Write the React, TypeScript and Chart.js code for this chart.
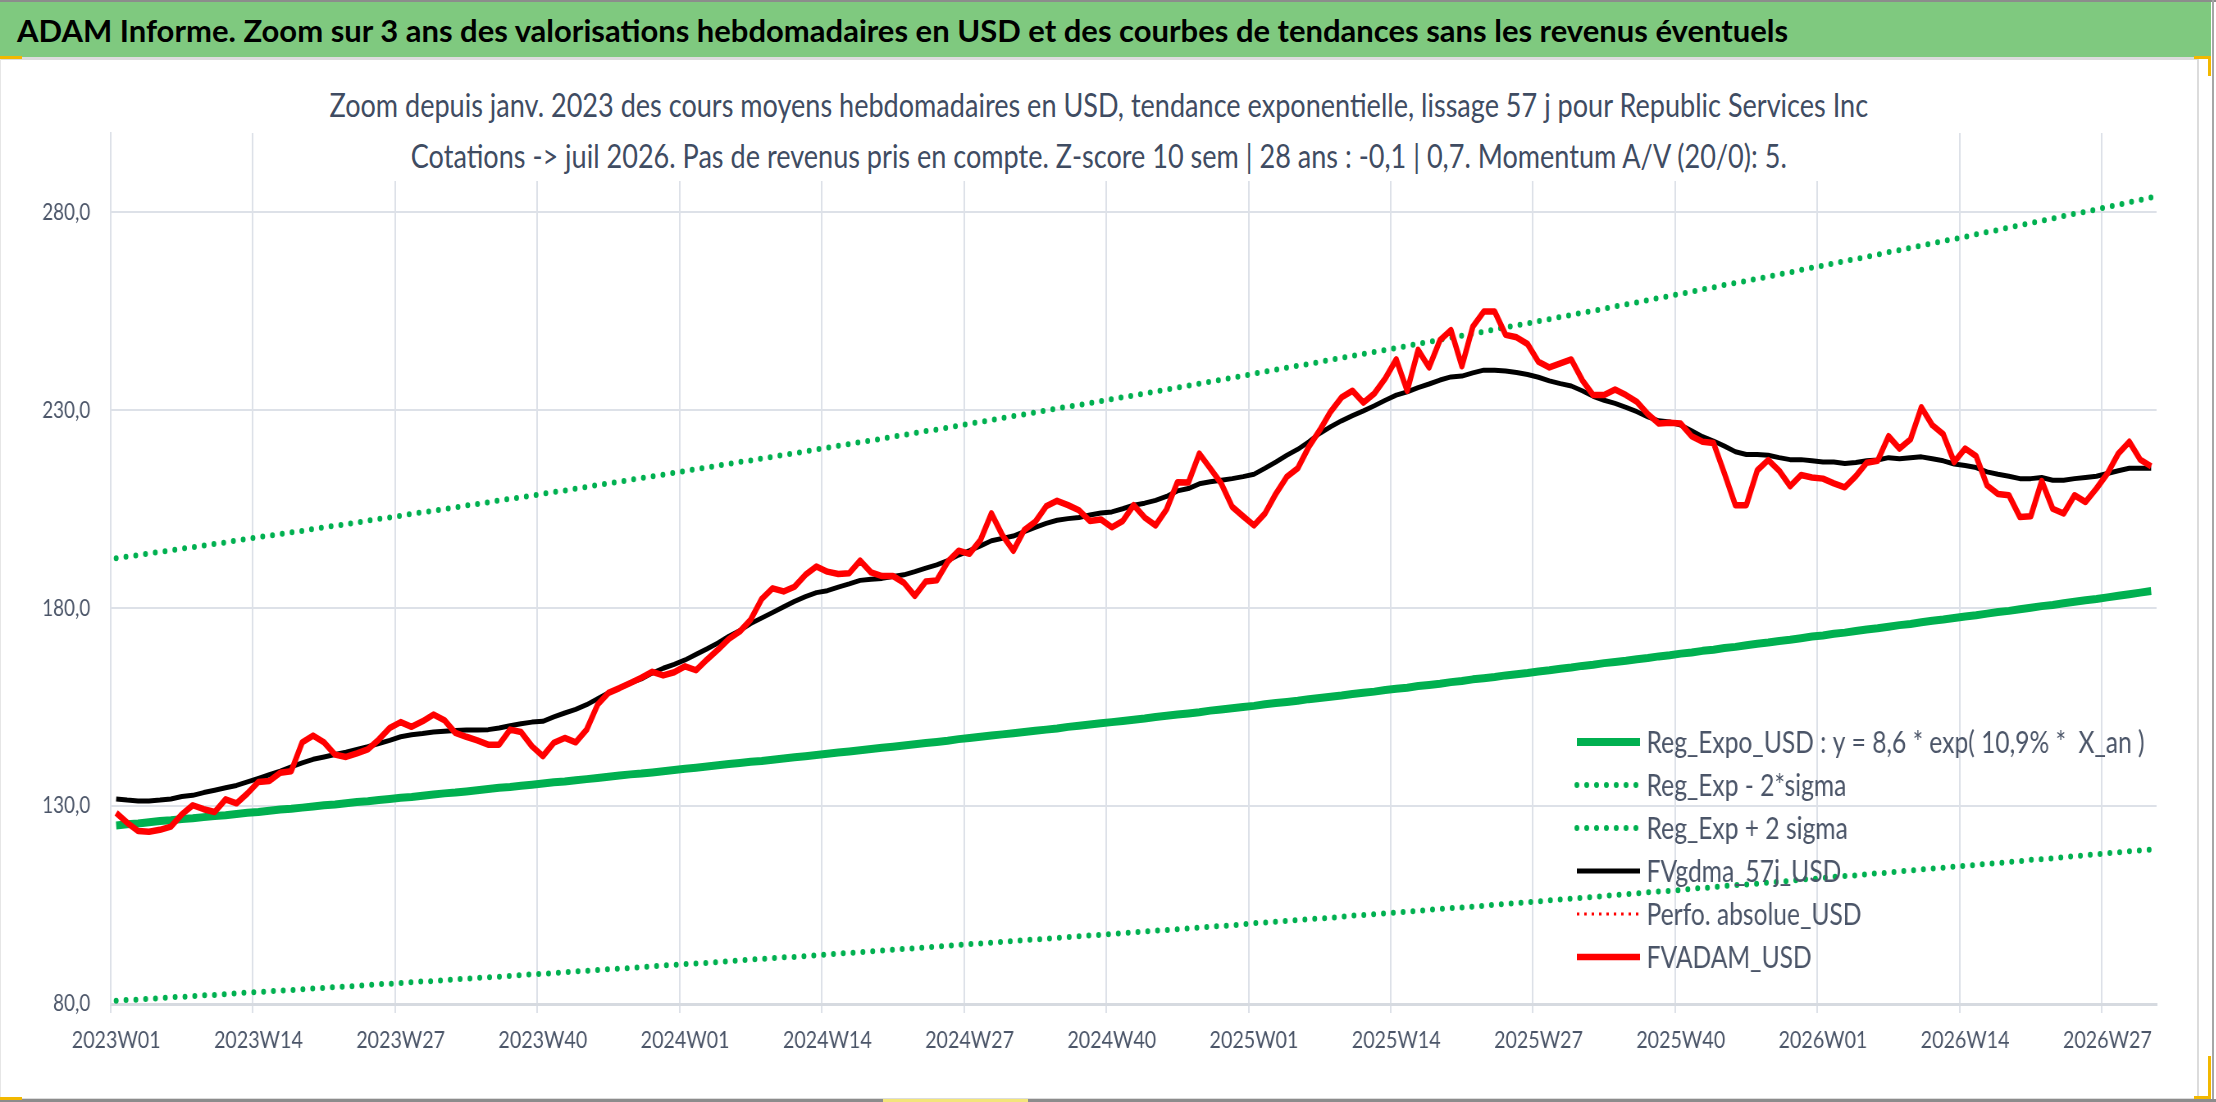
import React, { useEffect, useRef } from 'react';
import { Chart, registerables, Plugin } from 'chart.js';

Chart.register(...registerables);

// horizontal squeeze of the whole chart block (the reference chart is a narrowed Excel picture)
const SQUEEZE = 0.82;
const CHART_W = 2680;
const CHART_H = 1037;

const GREEN = '#00B050';
const RED = '#FF0000';
const GRID = '#dde1e8';
const TEXT = '#4b5568';
const MARK = '#f2b800';

const years = [2023, 2024, 2025, 2026];
const weeksInYear = [52, 52, 52, 31];
const weeks: string[] = [];
years.forEach((y, k) => {
  for (let w = 1; w <= weeksInYear[k]; w++) weeks.push(`${y}W${String(w).padStart(2, '0')}`);
});

const xTickLabels = [
  '2023W01', '2023W14', '2023W27', '2023W40',
  '2024W01', '2024W14', '2024W27', '2024W40',
  '2025W01', '2025W14', '2025W27', '2025W40',
  '2026W01', '2026W14', '2026W27',
];
const yTicks = [80, 130, 180, 230, 280];

const regExpo = [
  125.1, 125.4, 125.6, 125.9, 126.2, 126.4, 126.7, 126.9, 127.2, 127.5,
  127.7, 128.0, 128.3, 128.5, 128.8, 129.1, 129.3, 129.6, 129.9, 130.2,
  130.4, 130.7, 131.0, 131.2, 131.5, 131.8, 132.1, 132.3, 132.6, 132.9,
  133.2, 133.4, 133.7, 134.0, 134.3, 134.6, 134.8, 135.1, 135.4, 135.7,
  136.0, 136.2, 136.5, 136.8, 137.1, 137.4, 137.7, 138.0, 138.2, 138.5,
  138.8, 139.1, 139.4, 139.7, 140.0, 140.3, 140.6, 140.9, 141.2, 141.4,
  141.7, 142.0, 142.3, 142.6, 142.9, 143.2, 143.5, 143.8, 144.1, 144.4,
  144.7, 145.0, 145.3, 145.6, 145.9, 146.2, 146.5, 146.9, 147.2, 147.5,
  147.8, 148.1, 148.4, 148.7, 149.0, 149.3, 149.6, 150.0, 150.3, 150.6,
  150.9, 151.2, 151.5, 151.8, 152.1, 152.5, 152.8, 153.1, 153.4, 153.7,
  154.1, 154.4, 154.7, 155.0, 155.3, 155.7, 156.0, 156.3, 156.6, 157.0,
  157.3, 157.6, 157.9, 158.3, 158.6, 158.9, 159.3, 159.6, 159.9, 160.3,
  160.6, 160.9, 161.3, 161.6, 162.0, 162.3, 162.6, 163.0, 163.3, 163.6,
  164.0, 164.3, 164.7, 165.0, 165.4, 165.7, 166.1, 166.4, 166.7, 167.1,
  167.4, 167.8, 168.1, 168.5, 168.8, 169.2, 169.5, 169.9, 170.2, 170.6,
  171.0, 171.3, 171.7, 172.0, 172.4, 172.8, 173.1, 173.5, 173.8, 174.2,
  174.6, 174.9, 175.3, 175.7, 176.0, 176.4, 176.8, 177.1, 177.5, 177.9,
  178.2, 178.6, 179.0, 179.3, 179.7, 180.1, 180.5, 180.8, 181.2, 181.6,
  182.0, 182.3, 182.7, 183.1, 183.5, 183.9, 184.3,
];

const regLow = [
  80.8, 81.0, 81.1, 81.3, 81.5, 81.7, 81.8, 82.0, 82.2, 82.3,
  82.5, 82.7, 82.9, 83.0, 83.2, 83.4, 83.5, 83.7, 83.9, 84.1,
  84.3, 84.4, 84.6, 84.8, 85.0, 85.1, 85.3, 85.5, 85.7, 85.8,
  86.0, 86.2, 86.4, 86.6, 86.7, 86.9, 87.1, 87.3, 87.5, 87.6,
  87.8, 88.0, 88.2, 88.4, 88.6, 88.8, 88.9, 89.1, 89.3, 89.5,
  89.7, 89.9, 90.1, 90.2, 90.4, 90.6, 90.8, 91.0, 91.2, 91.4,
  91.6, 91.8, 91.9, 92.1, 92.3, 92.5, 92.7, 92.9, 93.1, 93.3,
  93.5, 93.7, 93.9, 94.1, 94.3, 94.5, 94.7, 94.9, 95.1, 95.3,
  95.5, 95.7, 95.9, 96.1, 96.3, 96.5, 96.7, 96.9, 97.1, 97.3,
  97.5, 97.7, 97.9, 98.1, 98.3, 98.5, 98.7, 98.9, 99.1, 99.3,
  99.5, 99.7, 99.9, 100.1, 100.4, 100.6, 100.8, 101.0, 101.2, 101.4,
  101.6, 101.8, 102.0, 102.3, 102.5, 102.7, 102.9, 103.1, 103.3, 103.5,
  103.8, 104.0, 104.2, 104.4, 104.6, 104.8, 105.1, 105.3, 105.5, 105.7,
  105.9, 106.2, 106.4, 106.6, 106.8, 107.0, 107.3, 107.5, 107.7, 107.9,
  108.2, 108.4, 108.6, 108.8, 109.1, 109.3, 109.5, 109.8, 110.0, 110.2,
  110.4, 110.7, 110.9, 111.1, 111.4, 111.6, 111.8, 112.1, 112.3, 112.5,
  112.8, 113.0, 113.2, 113.5, 113.7, 114.0, 114.2, 114.4, 114.7, 114.9,
  115.1, 115.4, 115.6, 115.9, 116.1, 116.4, 116.6, 116.8, 117.1, 117.3,
  117.6, 117.8, 118.1, 118.3, 118.6, 118.8, 119.0,
];

const regHigh = [
  192.6, 193.0, 193.4, 193.8, 194.2, 194.6, 195.0, 195.4, 195.8, 196.2,
  196.6, 197.1, 197.5, 197.9, 198.3, 198.7, 199.1, 199.5, 200.0, 200.4,
  200.8, 201.2, 201.6, 202.1, 202.5, 202.9, 203.3, 203.8, 204.2, 204.6,
  205.0, 205.4, 205.9, 206.3, 206.7, 207.2, 207.6, 208.0, 208.4, 208.9,
  209.3, 209.7, 210.2, 210.6, 211.1, 211.5, 211.9, 212.4, 212.8, 213.3,
  213.7, 214.2, 214.6, 215.1, 215.5, 216.0, 216.4, 216.9, 217.3, 217.8,
  218.2, 218.7, 219.1, 219.6, 220.1, 220.5, 221.0, 221.4, 221.9, 222.3,
  222.8, 223.3, 223.7, 224.2, 224.7, 225.1, 225.6, 226.1, 226.6, 227.0,
  227.5, 228.0, 228.5, 228.9, 229.4, 229.9, 230.4, 230.9, 231.3, 231.8,
  232.3, 232.8, 233.3, 233.7, 234.2, 234.7, 235.2, 235.7, 236.2, 236.7,
  237.2, 237.7, 238.2, 238.7, 239.2, 239.7, 240.2, 240.7, 241.2, 241.6,
  242.2, 242.7, 243.2, 243.7, 244.2, 244.7, 245.2, 245.7, 246.2, 246.8,
  247.2, 247.8, 248.3, 248.8, 249.3, 249.8, 250.4, 250.9, 251.4, 251.9,
  252.5, 253.0, 253.5, 254.0, 254.6, 255.1, 255.6, 256.2, 256.7, 257.2,
  257.8, 258.3, 258.8, 259.4, 259.9, 260.5, 261.0, 261.6, 262.1, 262.6,
  263.2, 263.7, 264.3, 264.8, 265.4, 266.0, 266.5, 267.1, 267.6, 268.2,
  268.7, 269.3, 269.9, 270.4, 271.0, 271.6, 272.1, 272.7, 273.2, 273.8,
  274.4, 275.0, 275.5, 276.1, 276.7, 277.3, 277.8, 278.4, 279.0, 279.6,
  280.1, 280.7, 281.3, 281.9, 282.5, 283.1, 283.7,
];

const fvGdma = [
  131.8, 131.5, 131.3, 131.3, 131.5, 131.8, 132.4, 132.7, 133.4, 134.0,
  134.6, 135.2, 136.1, 137.0, 137.9, 138.8, 139.9, 140.9, 141.8, 142.4,
  143.0, 143.6, 144.3, 145.0, 145.8, 146.6, 147.5, 148.0, 148.3, 148.7,
  148.9, 149.1, 149.2, 149.2, 149.3, 149.7, 150.3, 150.8, 151.2, 151.4,
  152.5, 153.5, 154.4, 155.6, 157.1, 158.6, 159.8, 161.1, 162.1, 163.6,
  164.8, 165.8, 166.9, 168.3, 169.7, 171.2, 172.9, 174.3, 176.1, 177.5,
  178.9, 180.3, 181.7, 182.9, 183.9, 184.4, 185.3, 186.1, 187.0, 187.3,
  187.5, 188.0, 188.4, 189.2, 190.1, 190.9, 192.0, 193.4, 194.5, 195.7,
  197.0, 197.6, 198.2, 199.3, 200.4, 201.4, 202.2, 202.6, 202.9, 203.5,
  204.0, 204.3, 205.1, 206.0, 206.5, 207.2, 208.2, 209.6, 210.2, 211.4,
  211.9, 212.3, 212.7, 213.2, 213.8, 215.3, 216.9, 218.6, 220.1, 222.0,
  224.1, 225.8, 227.3, 228.6, 229.8, 231.1, 232.5, 233.8, 234.6, 235.7,
  236.6, 237.6, 238.4, 238.6, 239.4, 240.1, 240.1, 239.9, 239.5, 239.0,
  238.3, 237.4, 236.7, 236.1, 234.9, 233.5, 232.5, 231.7, 230.7, 229.6,
  228.3, 227.3, 227.0, 226.2, 224.8, 223.3, 222.2, 220.9, 219.5, 218.8,
  218.8, 218.6, 218.0, 217.5, 217.5, 217.2, 216.9, 216.9, 216.5, 216.8,
  217.2, 217.4, 218.0, 217.7, 218.0, 218.2, 217.7, 217.2, 216.4, 216.0,
  215.5, 214.4, 213.8, 213.3, 212.7, 212.7, 213.0, 212.3, 212.3, 212.7,
  213.0, 213.3, 214.0, 214.7, 215.3, 215.3, 215.3,
];

const fvAdam = [
  128.3, 125.8, 123.7, 123.5, 124.0, 124.8, 127.9, 130.2, 129.2, 128.5,
  131.7, 130.7, 133.2, 136.1, 136.3, 138.4, 138.8, 146.1, 147.8, 146.1,
  143.0, 142.4, 143.3, 144.3, 146.8, 149.7, 151.2, 150.0, 151.4, 153.1,
  151.7, 148.5, 147.5, 146.6, 145.5, 145.5, 149.3, 148.7, 145.1, 142.6,
  146.0, 147.2, 146.1, 149.3, 155.6, 158.6, 159.8, 161.1, 162.4, 163.9,
  163.0, 163.8, 165.3, 164.3, 167.0, 169.5, 172.2, 174.1, 177.1, 182.3,
  185.0, 184.2, 185.4, 188.4, 190.5, 189.2, 188.6, 188.8, 192.0, 189.0,
  188.1, 188.1, 186.4, 183.1, 186.7, 187.0, 191.7, 194.5, 193.7, 197.2,
  203.9, 198.4, 194.5, 199.7, 201.8, 205.7, 207.1, 206.0, 204.7, 202.0,
  202.4, 200.4, 202.0, 206.0, 202.9, 200.9, 204.9, 211.8, 211.7, 219.0,
  215.3, 211.5, 205.6, 203.2, 200.9, 203.9, 208.9, 213.2, 215.3, 220.7,
  224.9, 229.6, 233.2, 234.9, 231.9, 234.2, 238.0, 242.8, 234.9, 245.2,
  240.8, 247.7, 250.2, 241.1, 251.1, 254.9, 254.9, 249.0, 248.4, 246.7,
  242.2, 240.8, 241.8, 242.8, 237.6, 233.8, 233.8, 235.2, 233.8, 232.1,
  229.0, 226.6, 226.8, 226.6, 223.4, 222.0, 221.7, 214.0, 206.0, 206.0,
  214.8, 217.4, 214.7, 210.8, 213.6, 213.0, 212.7, 211.5, 210.5, 213.3,
  216.7, 217.2, 223.4, 220.3, 222.6, 230.7, 226.2, 223.9, 216.9, 220.3,
  218.4, 211.0, 208.8, 208.5, 203.0, 203.2, 212.1, 205.1, 203.9, 208.5,
  206.8, 210.2, 214.0, 219.0, 222.0, 217.5, 215.8,
];

// shown in the legend only, no visible values in the window
const perfoAbsolue: number[] = [];

// legend drawn inside the plot, bottom right, like the Excel original
const insideLegend: Plugin<'line'> = {
  id: 'insideLegend',
  afterDatasetsDraw(chart) {
    const { ctx, chartArea } = chart;
    const n = chart.data.datasets.length;
    ctx.save();
    chart.data.datasets.forEach((ds: any, i: number) => {
      const y = chartArea.bottom - 47 - (n - 1 - i) * 43;
      const x0 = chartArea.right - 707;
      const x1 = chartArea.right - 630;
      ctx.beginPath();
      ctx.strokeStyle = ds.borderColor;
      ctx.lineWidth = ds.borderWidth;
      ctx.lineCap = ds.borderCapStyle || 'butt';
      ctx.setLineDash(ds.borderDash || []);
      ctx.moveTo(x0, y);
      ctx.lineTo(x1, y);
      ctx.stroke();
      ctx.setLineDash([]);
      ctx.fillStyle = TEXT;
      ctx.font = '30px Lato';
      ctx.textAlign = 'left';
      ctx.textBaseline = 'middle';
      ctx.fillText(ds.label, chartArea.right - 622, y + 1);
    });
    ctx.restore();
  },
};

const AdamChart: React.FC = () => {
  const canvasRef = useRef<HTMLCanvasElement | null>(null);

  useEffect(() => {
    if (!canvasRef.current) return;
    const ctx = canvasRef.current.getContext('2d');
    if (!ctx) return;

    Chart.defaults.font.family = 'Lato';

    const chart = new Chart(ctx, {
      type: 'line',
      data: {
        labels: weeks,
        datasets: [
          {
            label: 'Reg_Expo_USD : y = 8,6 * exp( 10,9% *  X_an )',
            data: regExpo,
            borderColor: GREEN,
            borderWidth: 8,
            order: 5,
          },
          {
            label: 'Reg_Exp - 2*sigma',
            data: regLow,
            borderColor: GREEN,
            borderWidth: 6,
            borderDash: [0, 12],
            borderCapStyle: 'round',
            order: 4,
          },
          {
            label: 'Reg_Exp + 2 sigma',
            data: regHigh,
            borderColor: GREEN,
            borderWidth: 6,
            borderDash: [0, 12],
            borderCapStyle: 'round',
            order: 3,
          },
          {
            label: 'FVgdma_57j_USD',
            data: fvGdma,
            borderColor: '#000000',
            borderWidth: 5,
            order: 1,
          },
          {
            label: 'Perfo. absolue_USD',
            data: perfoAbsolue,
            borderColor: RED,
            borderWidth: 3,
            borderDash: [3, 6],
            order: 2,
          },
          {
            label: 'FVADAM_USD',
            data: fvAdam,
            borderColor: RED,
            borderWidth: 6.5,
            order: 0,
          },
        ],
      },
      options: {
        animation: false,
        responsive: true,
        maintainAspectRatio: false,
        elements: {
          point: { radius: 0 },
          line: { tension: 0, borderJoinStyle: 'round' },
        },
        layout: { padding: { top: 73, right: 50, bottom: 0, left: 0 } },
        plugins: {
          legend: { display: false },
          title: { display: false },
          tooltip: { enabled: false },
        },
        scales: {
          x: {
            offset: true,
            afterFit: (scale: any) => {
              scale.height = 93;
            },
            grid: {
              offset: true,
              lineWidth: 2,
              tickLength: 9,
              color: (c: any) => (c.index !== undefined && c.index % 13 === 0 ? GRID : 'rgba(0,0,0,0)'),
              tickColor: (c: any) => (c.index !== undefined && c.index % 13 === 0 ? GRID : 'rgba(0,0,0,0)'),
            },
            border: { color: '#d6dae0', width: 3 },
            ticks: {
              autoSkip: false,
              maxRotation: 0,
              minRotation: 0,
              padding: 13,
              color: TEXT,
              font: { size: 24 },
              callback: (_v: any, i: number) => (xTickLabels.includes(weeks[i]) ? weeks[i] : ''),
            },
          },
          y: {
            min: 80,
            max: 300,
            afterBuildTicks: (scale: any) => {
              scale.ticks = yTicks.map((v) => ({ value: v }));
            },
            afterFit: (scale: any) => {
              scale.width = 135;
            },
            grid: { color: GRID, lineWidth: 2, drawTicks: false },
            border: { color: GRID, width: 2 },
            ticks: {
              padding: 25,
              color: TEXT,
              font: { size: 23 },
              callback: (v: any) => Number(v).toFixed(1).replace('.', ','),
            },
          },
        },
      },
      plugins: [insideLegend],
    });

    return () => chart.destroy();
  }, []);

  return <canvas ref={canvasRef} />;
};

const App: React.FC = () => {
  return (
    <div
      style={{
        position: 'fixed',
        left: 0,
        top: 0,
        width: 2216,
        height: 1102,
        background: '#ffffff',
        overflow: 'hidden',
        fontFamily: 'Lato, sans-serif',
      }}
    >
      <div style={{ position: 'absolute', left: 0, top: 0, width: 2216, height: 2, background: '#8c8c8c' }} />
      <div
        style={{
          position: 'absolute',
          left: 0,
          top: 2,
          width: 2211,
          height: 55,
          background: '#7fc97f',
          display: 'flex',
          alignItems: 'center',
        }}
      >
        <span style={{ marginLeft: 17, fontWeight: 700, fontSize: 31, color: '#000', whiteSpace: 'nowrap' }}>
          ADAM Informe. Zoom sur 3 ans des valorisations hebdomadaires en USD et des courbes de tendances sans les revenus éventuels
        </span>
      </div>
      <div style={{ position: 'absolute', left: 2212, top: 0, width: 2, height: 1102, background: '#a6a6a6' }} />
      <div
        style={{
          position: 'absolute',
          left: 0,
          top: 57,
          width: 2196,
          height: 1038,
          borderTop: '3px solid #dcdcdc',
          borderRight: '2px solid #dcdcdc',
          borderBottom: '3px solid #dcdcdc',
          borderLeft: '1px solid #e6e6e6',
        }}
      />
      <div style={{ position: 'absolute', left: 0, top: 1099, width: 2216, height: 3, background: '#8c8c8c' }} />
      {/* small selection marks of the source sheet */}
      <div style={{ position: 'absolute', left: 0, top: 56, width: 22, height: 3, background: MARK }} />
      <div style={{ position: 'absolute', left: 2194, top: 56, width: 17, height: 3, background: MARK }} />
      <div style={{ position: 'absolute', left: 2208, top: 56, width: 3, height: 20, background: MARK }} />
      <div style={{ position: 'absolute', left: 2208, top: 1056, width: 3, height: 43, background: MARK }} />
      <div style={{ position: 'absolute', left: 2194, top: 1096, width: 17, height: 3, background: MARK }} />
      <div style={{ position: 'absolute', left: 0, top: 1097, width: 22, height: 3, background: MARK }} />
      <div style={{ position: 'absolute', left: 883, top: 1099, width: 145, height: 3, background: '#f3e57a' }} />
      <div
        style={{
          position: 'absolute',
          left: 0,
          top: 60,
          width: CHART_W,
          height: CHART_H,
          transform: `scaleX(${SQUEEZE})`,
          transformOrigin: '0 0',
        }}
      >
        <AdamChart />
        <div
          style={{
            position: 'absolute',
            top: 19,
            left: '50%',
            transform: 'translateX(-50%)',
            padding: '0 40px 0 40px',
            background: '#ffffff',
            color: '#3f4c62',
            fontSize: 33,
            lineHeight: '51px',
            textAlign: 'center',
            whiteSpace: 'nowrap',
          }}
        >
          <div>Zoom depuis janv. 2023 des cours moyens hebdomadaires en USD, tendance exponentielle, lissage 57 j pour Republic Services Inc</div>
          <div>Cotations -&gt; juil 2026. Pas de revenus pris en compte. Z-score 10 sem | 28 ans : -0,1 | 0,7. Momentum A/V (20/0): 5.</div>
        </div>
      </div>
    </div>
  );
};

export default App;
